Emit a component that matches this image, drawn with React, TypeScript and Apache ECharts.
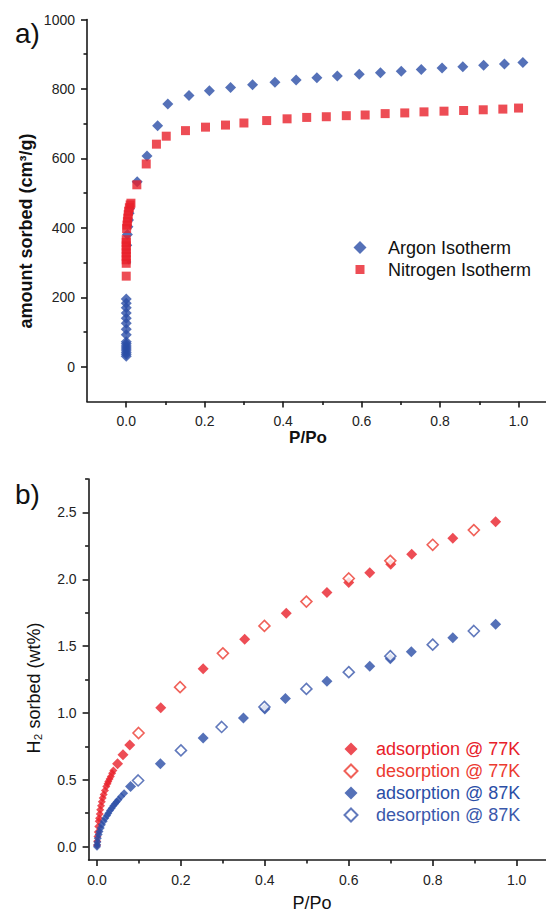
import React, { useEffect, useRef } from 'react';
import * as echarts from 'echarts';

// ---------- data ----------
const argonIsotherm: [number, number][] = [
  [0.0, 30], [0.0, 36], [0.0, 42], [0.0, 48], [0.0, 54], [0.0, 60], [0.0, 66], [0.0, 72],
  [0.0, 92], [0.0, 108], [0.0, 125], [0.0, 140], [0.0, 155], [0.0, 170], [0.0, 183], [0.0, 195],
  [0.0066, 302], [0.009, 350], [0.003, 381], [0.012, 403], [0.0135, 423], [0.015, 442], [0.016, 456],
  [0.028, 533], [0.053, 607], [0.08, 694], [0.106, 757], [0.16, 781], [0.212, 795], [0.266, 804],
  [0.322, 812], [0.379, 819], [0.433, 826], [0.486, 832], [0.538, 837], [0.594, 842], [0.648, 847],
  [0.701, 851], [0.752, 856], [0.805, 860], [0.858, 864], [0.911, 868], [0.964, 872], [1.011, 876],
];

const nitrogenIsotherm: [number, number][] = [
  [0.0, 261], [0.0, 298], [0.0, 308], [0.0, 318], [0.0, 328], [0.0, 338], [0.0, 348], [0.0, 358], [0.0, 366],
  [0.001, 398], [0.002, 408], [0.003, 418], [0.004, 428], [0.005, 438], [0.006, 448], [0.008, 458],
  [0.01, 466], [0.012, 471],
  [0.027, 524], [0.051, 584], [0.077, 641], [0.102, 664], [0.151, 680], [0.202, 690], [0.253, 696],
  [0.3, 702], [0.358, 709], [0.41, 714], [0.46, 718], [0.51, 720], [0.561, 723], [0.609, 725],
  [0.66, 729], [0.71, 731], [0.759, 734], [0.81, 736], [0.86, 738], [0.91, 740], [0.96, 742], [1.0, 745],
];

const adsorption77: [number, number][] = [
  [0.0, 0.01], [0.0005, 0.04], [0.001, 0.075], [0.002, 0.11], [0.003, 0.15], [0.004, 0.19],
  [0.005, 0.213], [0.0065, 0.245], [0.0076, 0.275], [0.0095, 0.305], [0.0115, 0.335], [0.0135, 0.363],
  [0.016, 0.39], [0.019, 0.42], [0.022, 0.45], [0.025, 0.47], [0.027, 0.488], [0.03, 0.505],
  [0.033, 0.525], [0.036, 0.548], [0.039, 0.57], [0.049, 0.62], [0.062, 0.688], [0.078, 0.76],
  [0.152, 1.038], [0.253, 1.331], [0.352, 1.551], [0.451, 1.746], [0.548, 1.901], [0.6, 1.975],
  [0.65, 2.048], [0.7, 2.113], [0.75, 2.188], [0.848, 2.306], [0.95, 2.431],
];

const desorption77: [number, number][] = [
  [0.099, 0.85], [0.198, 1.193], [0.3, 1.446], [0.399, 1.651], [0.499, 1.833],
  [0.6, 2.006], [0.699, 2.138], [0.8, 2.258], [0.898, 2.368],
];

const adsorption87: [number, number][] = [
  [0.0, 0.0], [0.0005, 0.015], [0.001, 0.035], [0.002, 0.063], [0.004, 0.09], [0.006, 0.113],
  [0.009, 0.14], [0.0116, 0.163], [0.016, 0.19], [0.0195, 0.213], [0.024, 0.232], [0.027, 0.25],
  [0.031, 0.27], [0.035, 0.288], [0.039, 0.305], [0.043, 0.32], [0.047, 0.335], [0.051, 0.35],
  [0.0575, 0.375], [0.0647, 0.4], [0.08, 0.45],
  [0.151, 0.62], [0.253, 0.813], [0.349, 0.963], [0.4, 1.03], [0.449, 1.108], [0.548, 1.238],
  [0.65, 1.35], [0.699, 1.406], [0.749, 1.458], [0.848, 1.563], [0.95, 1.663],
];

const desorption87: [number, number][] = [
  [0.098, 0.495], [0.2, 0.72], [0.297, 0.895], [0.399, 1.045], [0.499, 1.18],
  [0.6, 1.305], [0.699, 1.425], [0.8, 1.511], [0.898, 1.613],
];

const xMajorTicks = [0, 0.2, 0.4, 0.6, 0.8, 1.0];
const xMinorTicks = [0.1, 0.3, 0.5, 0.7, 0.9];
const topYMajorTicks = [0, 200, 400, 600, 800, 1000];
const topYMinorTicks = [100, 300, 500, 700, 900];
const botYMajorTicks = [0, 0.5, 1.0, 1.5, 2.0, 2.5];
const botYMinorTicks = [0.25, 0.75, 1.25, 1.75, 2.25, 2.75];

// ---------- styles ----------
const FONT = '"Liberation Sans", Arial, Helvetica, sans-serif';
const BLUE = '#2a4ea6';
const RED = '#e8202a';
const RED_OPEN = '#ec3a30';
const BLUE_OPEN = '#3a58ab';
const AXIS = '#1a1a1a';
// legend square drawn smaller inside its box
const SMALL_SQUARE_ICON = 'path://M0,0L0.01,0M2,2L11,2L11,11L2,11ZM13,13L12.99,13';

function axisPair(
  dim: 'x' | 'y',
  gridIndex: number,
  min: number,
  max: number,
  major: number[],
  minor: number[],
  digits: number,
  margin: number,
) {
  const position = dim === 'x' ? 'bottom' : 'left';
  const line = { color: AXIS, width: 1.6 };
  return [
    {
      type: 'value',
      gridIndex,
      position,
      min,
      max,
      axisLine: { show: true, onZero: false, lineStyle: line },
      axisTick: { show: true, customValues: major, length: 6, lineStyle: line },
      axisLabel: {
        show: true,
        customValues: major,
        formatter: (v: number) => v.toFixed(digits),
        fontSize: 14,
        color: '#222',
        fontFamily: FONT,
        margin,
      },
      splitLine: { show: false },
    },
    {
      type: 'value',
      gridIndex,
      position,
      min,
      max,
      axisLine: { show: false, onZero: false },
      axisTick: { show: true, customValues: minor, length: 3.5, lineStyle: line },
      axisLabel: { show: false },
      splitLine: { show: false },
    },
  ];
}

export default function App() {
  const ref = useRef<HTMLDivElement>(null);

  useEffect(() => {
    if (!ref.current) return;
    const chart = echarts.init(ref.current, undefined, { renderer: 'svg' });

    const option: any = {
      animation: false,
      backgroundColor: '#ffffff',
      grid: [
        { left: 87, top: 19.5, width: 459, height: 382, outerBoundsMode: 'none' },
        { left: 88.6, top: 479, width: 457.4, height: 381, outerBoundsMode: 'none' },
      ],
      xAxis: [
        ...axisPair('x', 0, -0.1, 1.07, xMajorTicks, xMinorTicks, 1, 12),
        ...axisPair('x', 1, -0.02, 1.07, xMajorTicks, xMinorTicks, 1, 13),
      ],
      yAxis: [
        ...axisPair('y', 0, -100, 1000, topYMajorTicks, topYMinorTicks, 0, 12),
        ...axisPair('y', 1, -0.1, 2.75, botYMajorTicks, botYMinorTicks, 1, 12),
      ],
      legend: [
        {
          data: [
            { name: 'Argon Isotherm' },
            { name: 'Nitrogen Isotherm', icon: SMALL_SQUARE_ICON },
          ],
          orient: 'vertical',
          left: 348.5,
          top: 233.5,
          itemWidth: 13,
          itemHeight: 13,
          itemGap: 4,
          selectedMode: false,
          textStyle: { fontSize: 18, color: '#111', fontFamily: FONT, padding: [0, 0, 0, 16.5] },
        },
        {
          data: [
            { name: 'adsorption @ 77K', textStyle: { color: RED } },
            { name: 'desorption @ 77K', textStyle: { color: RED_OPEN } },
            { name: 'adsorption @ 87K', textStyle: { color: BLUE } },
            { name: 'desorption @ 87K', textStyle: { color: BLUE_OPEN } },
          ],
          orient: 'vertical',
          left: 338.5,
          top: 735,
          itemWidth: 13,
          itemHeight: 13,
          itemGap: 4,
          selectedMode: false,
          textStyle: { fontSize: 18, fontFamily: FONT, padding: [0, 0, 0, 13.5] },
        },
      ],
      series: [
        {
          type: 'scatter',
          name: 'Argon Isotherm',
          xAxisIndex: 0,
          yAxisIndex: 0,
          data: argonIsotherm,
          symbol: 'diamond',
          symbolSize: (v: number[]) => (v[0] > 0.004 && v[0] < 0.02 ? 5 : 11),
          itemStyle: { color: BLUE },
        },
        {
          type: 'scatter',
          name: 'Nitrogen Isotherm',
          xAxisIndex: 0,
          yAxisIndex: 0,
          data: nitrogenIsotherm,
          symbol: 'rect',
          symbolSize: 9,
          itemStyle: { color: RED },
        },
        {
          type: 'scatter',
          name: 'adsorption @ 77K',
          xAxisIndex: 2,
          yAxisIndex: 2,
          data: adsorption77,
          symbol: 'diamond',
          symbolSize: (v: number[]) => (v[0] < 0.045 ? 8 : 11),
          itemStyle: { color: RED },
        },
        {
          type: 'scatter',
          name: 'desorption @ 77K',
          xAxisIndex: 2,
          yAxisIndex: 2,
          data: desorption77,
          symbol: 'diamond',
          symbolSize: 11,
          itemStyle: { color: '#ffffff', borderColor: RED_OPEN, borderWidth: 1.6 },
        },
        {
          type: 'scatter',
          name: 'adsorption @ 87K',
          xAxisIndex: 2,
          yAxisIndex: 2,
          data: adsorption87,
          symbol: 'diamond',
          symbolSize: (v: number[]) => (v[0] < 0.07 ? 8 : 11),
          itemStyle: { color: BLUE },
        },
        {
          type: 'scatter',
          name: 'desorption @ 87K',
          xAxisIndex: 2,
          yAxisIndex: 2,
          data: desorption87,
          symbol: 'diamond',
          symbolSize: 11,
          itemStyle: { color: '#ffffff', borderColor: BLUE_OPEN, borderWidth: 1.6 },
        },
      ],
      graphic: [
        {
          type: 'text',
          x: 15,
          y: 33,
          style: { text: 'a)', fontSize: 28, fontFamily: FONT, fill: '#111', verticalAlign: 'middle' },
        },
        {
          type: 'text',
          x: 15,
          y: 494,
          style: { text: 'b)', fontSize: 28, fontFamily: FONT, fill: '#111', verticalAlign: 'middle' },
        },
        {
          type: 'text',
          x: 26,
          y: 231,
          rotation: Math.PI / 2,
          style: {
            text: 'amount sorbed (cm³/g)',
            fontSize: 18,
            fontWeight: 'bold',
            fontFamily: FONT,
            fill: '#111',
            align: 'center',
            verticalAlign: 'middle',
          },
        },
        {
          type: 'text',
          x: 34,
          y: 688,
          rotation: Math.PI / 2,
          style: {
            text: 'H₂ sorbed (wt%)',
            fontSize: 18,
            fontFamily: FONT,
            fill: '#111',
            align: 'center',
            verticalAlign: 'middle',
          },
        },
        {
          type: 'text',
          x: 308,
          y: 437,
          style: { text: 'P/Po', fontSize: 17, fontWeight: 'bold', fontFamily: FONT, fill: '#111', align: 'center', verticalAlign: 'middle' },
        },
        {
          type: 'text',
          x: 312,
          y: 903,
          style: { text: 'P/Po', fontSize: 18, fontFamily: FONT, fill: '#111', align: 'center', verticalAlign: 'middle' },
        },
      ],
    };

    chart.setOption(option);
    return () => chart.dispose();
  }, []);

  return (
    <div
      ref={ref}
      style={{ position: 'absolute', left: 0, top: 0, width: 546, height: 913, background: '#fff' }}
    />
  );
}
